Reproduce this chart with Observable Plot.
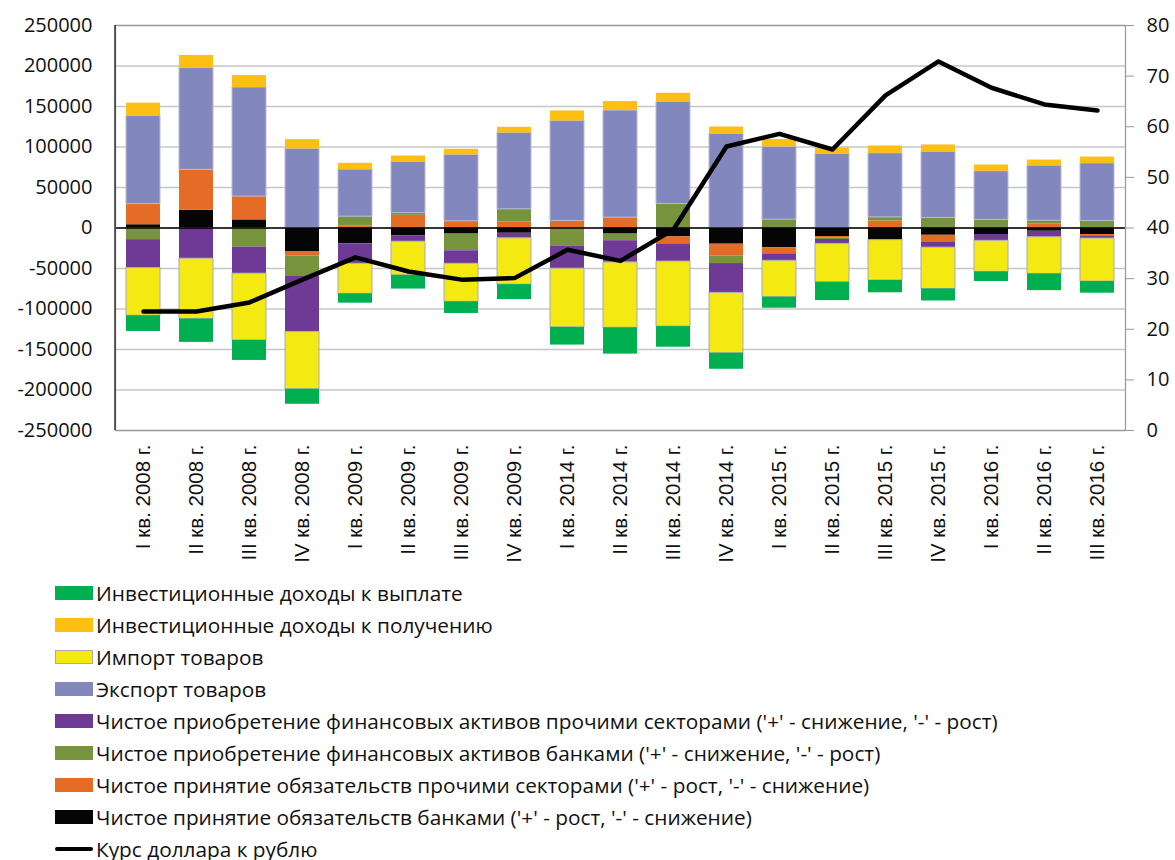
<!DOCTYPE html>
<html>
<head>
<meta charset="utf-8">
<script src="https://cdn.jsdelivr.net/npm/d3@7"></script>
<script src="https://cdn.jsdelivr.net/npm/@observablehq/plot@0.6"></script>
<style>
  body { margin: 0; background: #fff; font-family: "Open Sans", sans-serif; }
  #chart { position: absolute; left: 0; top: 0; }
  #legend { position: absolute; left: 55px; top: 577px; }
  .row { height: 32px; display: flex; align-items: center; font-size: 20.8px; color: #111; white-space: nowrap; }
  .sw { width: 38px; height: 14px; margin-right: 3px; box-sizing: border-box; }
  .ln { width: 38px; height: 4px; margin-right: 3px; background: #000; border-radius: 2px; }
  g[aria-label="x-axis tick label"] text { font-family: "Liberation Sans", Arial, sans-serif; font-size: 20.5px; }
  g[aria-label="y-axis tick"] path { stroke: #999; }
</style>
</head>
<body>
<div id="chart"></div>
<div id="legend"></div>
<script>
const quarters = ["I кв. 2008 г.","II кв. 2008 г.","III кв. 2008 г.","IV кв. 2008 г.","I кв. 2009 г.","II кв. 2009 г.","III кв. 2009 г.","IV кв. 2009 г.","I кв. 2014 г.","II кв. 2014 г.","III кв. 2014 г.","IV кв. 2014 г.","I кв. 2015 г.","II кв. 2015 г.","III кв. 2015 г.","IV кв. 2015 г.","I кв. 2016 г.","II кв. 2016 г.","III кв. 2016 г."];

const banksLiab   = [4000, 22000, 10000, -29000, -19500, -9500, -7500, -6500, 0, -7500, -11000, -20000, -24500, -10500, -15000, -9000, -8000, -4000, -8000];
const otherLiab   = [25500, 49800, 28800, -5400, 2500, 15600, 8200, 7400, 8600, 12800, -8600, -14400, -7400, -2100, 8600, -8200, 0, 4900, -2500];
const banksAssets = [-14400, 0, -23500, -24700, 11500, 2900, -20600, 15600, -22200, -8200, 29600, -9500, 10300, -1600, 4500, 12400, 9900, 4100, 8600];
const otherAssets = [-35000, -37900, -32900, -69200, -24700, -7400, -16100, -6200, -28000, -26800, -21800, -36200, -8600, -5400, 0, -7000, -7800, -7400, -2500];
const exportGoods = [108700, 125600, 134700, 97600, 58100, 63000, 82000, 94300, 123500, 132200, 126000, 116100, 89800, 91400, 79100, 81500, 60100, 67900, 71200];
const importGoods = [-58900, -74500, -82400, -70800, -37100, -41600, -46900, -57200, -72500, -80700, -80300, -74500, -44900, -47400, -49800, -51100, -38300, -45300, -53100];
const incomeRecv  = [16000, 15600, 14800, 11500, 7800, 7400, 7000, 7000, 12400, 11100, 10700, 8600, 9100, 7400, 9100, 8600, 7800, 7000, 7800];
const incomePay   = [-19400, -28800, -24700, -18500, -11500, -16900, -14400, -18500, -21800, -32500, -25500, -19800, -13600, -22600, -15200, -14800, -11900, -20600, -14400];
const usdRub      = [23.5, 23.5, 25.3, 29.8, 34.2, 31.4, 29.8, 30.1, 35.7, 33.5, 39.7, 56.1, 58.6, 55.5, 66.2, 72.9, 67.7, 64.4, 63.2];

const leftTicks  = [-250000,-200000,-150000,-100000,-50000,0,50000,100000,150000,200000,250000];
const rightTicks = [0,10,20,30,40,50,60,70,80];

// stacking order (bottom-up from zero)
const series = [
  {name: "Чистое принятие обязательств банками ('+' - рост, '-' - снижение)", values: banksLiab, color: "#050505", stroke: "none"},
  {name: "Чистое принятие обязательств прочими секторами ('+' - рост, '-' - снижение)", values: otherLiab, color: "#e46c26", stroke: "none"},
  {name: "Чистое приобретение финансовых активов банками ('+' - снижение, '-' - рост)", values: banksAssets, color: "#77933c", stroke: "none"},
  {name: "Чистое приобретение финансовых активов прочими секторами ('+' - снижение, '-' - рост)", values: otherAssets, color: "#6e3a96", stroke: "none"},
  {name: "Экспорт товаров", values: exportGoods, color: "#8288be", stroke: "#b8bad8"},
  {name: "Импорт товаров", values: importGoods, color: "#f5e912", stroke: "#a8a8c0"},
  {name: "Инвестиционные доходы к получению", values: incomeRecv, color: "#fdbf12", stroke: "none"},
  {name: "Инвестиционные доходы к выплате", values: incomePay, color: "#00b050", stroke: "none"}
];

const rows = [];
for (const s of series) {
  quarters.forEach((q, i) => rows.push({q, series: s.name, value: s.values[i], color: s.color, stroke: s.stroke}));
}
const rateRows = quarters.map((q, i) => ({q, rate: usdRub[i]}));
const k = 500000 / 80; // right-axis mapping
const toLeft = r => r * k - 250000;

const chart = Plot.plot({
  width: 1175,
  height: 575,
  marginLeft: 115,
  marginRight: 50,
  marginTop: 25,
  marginBottom: 145,
  style: {fontFamily: "Open Sans, sans-serif", fontSize: "20px", color: "#111", background: "#fff"},
  x: {domain: quarters, paddingInner: 0.36, paddingOuter: 0.18, label: null},
  y: {domain: [-250000, 250000], label: null},
  color: {type: "identity"},
  marks: [
    Plot.ruleY(leftTicks, {stroke: "#c6c6c6", strokeWidth: 1.5}),
    Plot.barY(rows, {x: "q", y: "value", fill: "color", stroke: "stroke", strokeWidth: 1, order: null}),
    Plot.ruleY([0], {stroke: "#000", strokeWidth: 1.3}),
    Plot.frame({stroke: "#9a9a9a", strokeWidth: 1.3}),
    Plot.line(rateRows, {x: "q", y: d => toLeft(d.rate), stroke: "#000", strokeWidth: 4.5, strokeLinejoin: "round", strokeLinecap: "round"}),
    Plot.axisY(leftTicks, {anchor: "left", tickSize: 0, tickPadding: 23, tickFormat: d => String(d), label: null}),
    Plot.axisY(rightTicks.map(toLeft), {anchor: "right", tickSize: 8, tickPadding: 13, tickFormat: d => String(Math.round((d + 250000) / k)), label: null}),
    Plot.axisX({tickRotate: -90, tickSize: 0, tickPadding: 14, label: null})
  ]
});
document.getElementById("chart").append(chart);

// left axis line darker, as in the reference
const svg = d3.select(chart);
svg.append("line").attr("x1", 115).attr("x2", 115).attr("y1", 25).attr("y2", 430).attr("stroke", "#333").attr("stroke-width", 1.5);

// legend
const legendOrder = [
  series[7], series[6], series[5], series[4], series[3], series[2], series[1], series[0]
];
const leg = document.getElementById("legend");
for (const s of legendOrder) {
  const r = document.createElement("div");
  r.className = "row";
  const sw = document.createElement("div");
  sw.className = "sw";
  sw.style.background = s.color;
  if (s.name === "Импорт товаров") sw.style.border = "1px solid #a8a8b8";
  r.append(sw, document.createTextNode(s.name));
  leg.append(r);
}
const lr = document.createElement("div");
lr.className = "row";
const ln = document.createElement("div");
ln.className = "ln";
lr.append(ln, document.createTextNode("Курс доллара к рублю"));
leg.append(lr);
</script>
</body>
</html>
